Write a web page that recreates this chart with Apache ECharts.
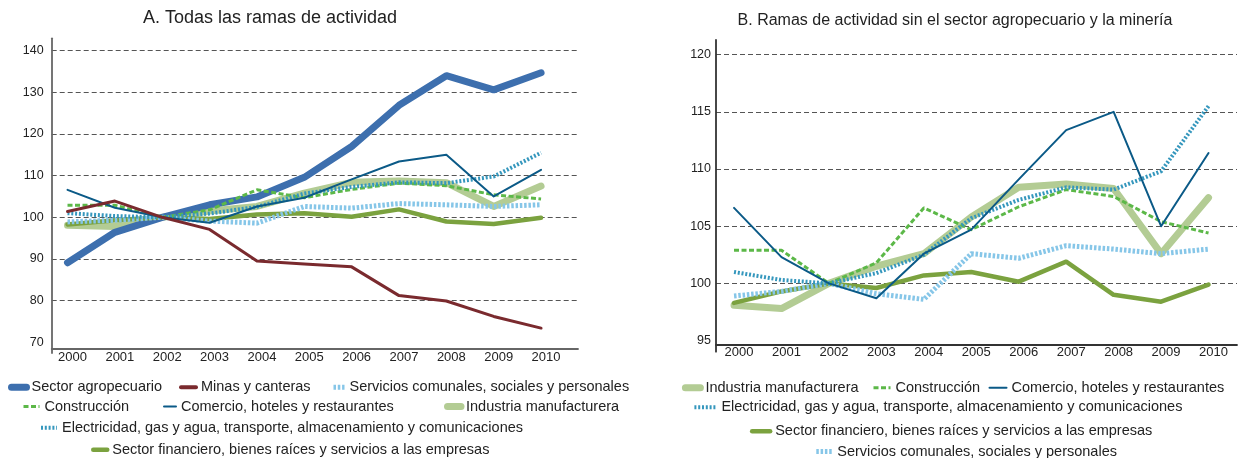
<!DOCTYPE html>
<html>
<head>
<meta charset="utf-8">
<script src="https://cdn.jsdelivr.net/npm/echarts@6.0.0/dist/echarts.min.js"></script>
<style>
html,body{margin:0;padding:0;background:#fff;}
#chartA{position:absolute;left:0;top:0;width:640px;height:458px;}
#chartB{position:absolute;left:620px;top:0;width:619px;height:458px;}
</style>
</head>
<body>
<div id="chartA"></div>
<div id="chartB"></div>
<script>
// indices, base 2002 = 100
const years = [2000, 2001, 2002, 2003, 2004, 2005, 2006, 2007, 2008, 2009, 2010];
const agropecuario = [89.1, 96.4, 100, 103.0, 104.9, 109.6, 117.0, 126.9, 134.0, 130.6, 134.7];
const minas = [101.4, 103.9, 100, 97.1, 89.5, 88.8, 88.1, 81.2, 79.9, 76.2, 73.4];
const industria = [98.1, 97.8, 100, 101.5, 102.6, 105.8, 108.4, 108.7, 108.3, 102.6, 107.5];
const construccion = [102.9, 102.9, 100, 101.8, 106.6, 104.7, 106.7, 108.2, 107.6, 105.4, 104.4];
const comercio = [106.6, 102.3, 100, 98.7, 102.6, 104.7, 109.1, 113.4, 115.0, 105.0, 111.4];
const electricidad = [101.0, 100.3, 100, 100.9, 102.5, 105.7, 107.3, 108.4, 108.2, 109.8, 115.5];
const servicios = [98.9, 99.3, 100, 99.1, 98.6, 102.6, 102.2, 103.3, 103.0, 102.6, 103.0];
const financiero = [98.3, 99.3, 100, 99.6, 100.7, 101.0, 100.15, 101.9, 99.0, 98.4, 99.9];

const ticksA = [70, 80, 90, 100, 110, 120, 130, 140];
const ticksB = [95, 100, 105, 110, 115, 120];

const N_AGRO = 'Sector agropecuario';
const N_MINAS = 'Minas y canteras';
const N_SERV = 'Servicios comunales, sociales y personales';
const N_CONS = 'Construcción';
const N_COM = 'Comercio, hoteles y restaurantes';
const N_IND = 'Industria manufacturera';
const N_ELEC = 'Electricidad, gas y agua, transporte, almacenamiento y comunicaciones';
const N_FIN = 'Sector financiero, bienes raíces y servicios a las empresas';

const FONT = '"Liberation Sans", Arial, sans-serif';

function pairs(vals) {
  return years.map((y, i) => [y, vals[i]]);
}

function line(name, vals, color, width, type) {
  // round caps fill the gaps of dashed lines, so only solid lines get them
  const cap = type === 'solid' ? 'round' : 'butt';
  return {
    name: name,
    type: 'line',
    data: pairs(vals),
    symbol: 'none',
    silent: true,
    lineStyle: {color: color, width: width, type: type, cap: cap, join: 'round'},
    itemStyle: {color: color}
  };
}

function legend(name, left, yc, iw, lw) {
  return {
    data: [name],
    left: left,
    top: yc - 7,
    itemWidth: iw,
    itemHeight: 14,
    padding: 0,
    selectedMode: false,
    lineStyle: {width: lw},
    itemStyle: {opacity: 0},
    textStyle: {fontSize: 14.5, color: '#222', fontFamily: FONT}
  };
}

function xAxis(min, max, offset, axisColor) {
  return {
    type: 'value', min: min, max: max, offset: offset,
    axisLine: {show: true, onZero: false, lineStyle: {color: axisColor, width: 1.8}},
    axisTick: {show: false},
    splitLine: {show: false},
    axisLabel: {customValues: years, formatter: v => String(v), margin: 2, padding: [0, 0, 0, 10],
      color: '#222', fontSize: 13, fontFamily: FONT}
  };
}

function yAxis(min, max, labels, axisColor, margin) {
  return {
    type: 'value', min: min, max: max,
    axisLine: {show: true, lineStyle: {color: axisColor, width: 1.8}},
    axisTick: {show: false, customValues: labels.slice(1)},
    axisLabel: {customValues: labels, margin: margin, color: '#222', fontSize: 12.5, fontFamily: FONT},
    splitLine: {show: true, lineStyle: {color: '#555', width: 1, type: [5, 3]}}
  };
}

const sIndustria = line(N_IND, industria, '#b3cc94', 7, 'solid');
const sAgro = line(N_AGRO, agropecuario, '#3d6fae', 7, 'solid');
const sFin = line(N_FIN, financiero, '#7ba23f', 4.5, 'solid');
const sServ = line(N_SERV, servicios, '#86c6e8', 5, [2.5, 1.8]);
const sCons = line(N_CONS, construccion, '#5cb848', 3, [5, 2.5]);
const sElec = line(N_ELEC, electricidad, '#3597bd', 4, [2, 1.8]);
const sCom = line(N_COM, comercio, '#0b5a87', 2, 'solid');
const sMinas = line(N_MINAS, minas, '#7a2a2e', 3, 'solid');

const chartA = echarts.init(document.getElementById('chartA'));
chartA.setOption({
  animation: false,
  title: {
    text: 'A. Todas las ramas de actividad', left: 270, top: 9, textAlign: 'center', padding: 0,
    textStyle: {fontSize: 18, fontWeight: 'normal', color: '#222', fontFamily: FONT}
  },
  grid: {left: 51.7, top: 38.3, width: 526.3, height: 314.7, outerBoundsMode: 'none'},
  xAxis: xAxis(1999.666, 2010.78, -4.3, '#666'),
  yAxis: yAxis(67.42, 142.98, ticksA, '#666', 8),
  legend: [
    legend(N_AGRO, 8, 386.7, 15, 7),
    legend(N_MINAS, 179, 386.7, 15, 4),
    legend(N_SERV, 331, 386.7, 11, 5),
    legend(N_CONS, 22, 406, 16, 3),
    legend(N_COM, 163, 406, 12, 2),
    legend(N_IND, 444, 406, 13.5, 7),
    legend(N_ELEC, 39, 427.3, 16, 4),
    legend(N_FIN, 91, 449.3, 14, 4.5)
  ],
  series: [sIndustria, sAgro, sFin, sServ, sCons, sElec, sCom, sMinas]
});

const chartB = echarts.init(document.getElementById('chartB'));
chartB.setOption({
  animation: false,
  title: {
    text: 'B. Ramas de actividad sin el sector agropecuario y la minería', left: 335, top: 13, textAlign: 'center', padding: 0,
    textStyle: {fontSize: 16, fontWeight: 'normal', color: '#222', fontFamily: FONT}
  },
  grid: {left: 96, top: 40, width: 521, height: 311.7, outerBoundsMode: 'none'},
  xAxis: xAxis(1999.62, 2010.6, -7.4, '#333'),
  yAxis: yAxis(94.03, 121.28, ticksB, '#333', 5),
  legend: [
    legend(N_IND, 61.9, 387.3, 15, 7),
    legend(N_CONS, 252, 387.3, 17, 3),
    legend(N_COM, 368.5, 387.3, 17, 2),
    legend(N_ELEC, 72.4, 406.7, 22, 4),
    legend(N_FIN, 129.9, 430.7, 18, 4.5),
    legend(N_SERV, 193.8, 451, 16, 5)
  ],
  series: [sIndustria, sFin, sServ, sCons, sElec, sCom]
});
</script>
</body>
</html>
